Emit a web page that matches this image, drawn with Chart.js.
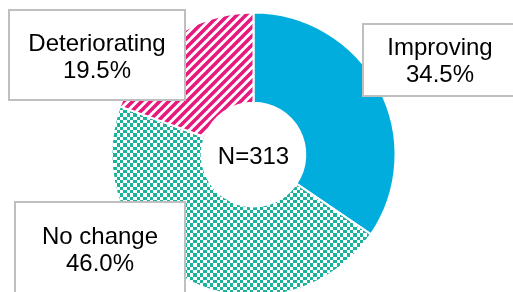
<!DOCTYPE html>
<html>
<head>
<meta charset="utf-8">
<script src="https://cdn.jsdelivr.net/npm/chart.js@4/dist/chart.umd.min.js"></script>
<style>
  html, body { margin: 0; padding: 0; background: #fff; overflow: hidden; }
  .wrap { width: 513px; height: 309px; position: relative; }
</style>
</head>
<body>
<div class="wrap"><canvas id="myChart"></canvas></div>
<script>
// data
const categories = ['Improving', 'No change', 'Deteriorating'];
const shares = [34.5, 46.0, 19.5];
const sampleSize = 313;

// fills
function stripes(color) {
    const s = 9;
    const c = document.createElement('canvas');
    c.width = s; c.height = s;
    const g = c.getContext('2d');
    g.fillStyle = '#fff';
    g.fillRect(0, 0, s, s);
    g.strokeStyle = color;
    g.lineWidth = 3.5;
    [-s, 0, s].forEach(function (o) {
        g.beginPath();
        g.moveTo(o - 1, s + 1);
        g.lineTo(o + s + 1, -1);
        g.stroke();
    });
    return g.createPattern(c, 'repeat');
}

function checker(color) {
    const c = document.createElement('canvas');
    c.width = 20; c.height = 20;
    const g = c.getContext('2d');
    g.fillStyle = '#fff';
    g.fillRect(0, 0, 20, 20);
    g.fillStyle = color;
    // squares about 3.3px wide
    const edges = [0, 3, 7, 10, 13, 17, 20];
    for (let r = 0; r < 6; r++) {
        for (let k = 0; k < 6; k++) {
            if ((r + k) % 2 === 0) {
                g.fillRect(edges[k], edges[r], edges[k + 1] - edges[k], edges[r + 1] - edges[r]);
            }
        }
    }
    return g.createPattern(c, 'repeat');
}

const fills = ['#00ADDC', checker('#1BB29B'), stripes('#E8197D')];

// label boxes (x, y, w, h, text centre x, first baseline)
const boxes = [
    [363, 24, 160, 72, 440, 55],
    [15, 202, 170, 100, 100, 244],
    [9, 10, 176, 90, 97, 51]
];

const labelBoxes = {
    id: 'labelBoxes',
    afterDraw: function (chart) {
        const ctx = chart.ctx;
        ctx.save();
        ctx.font = '24px "Liberation Sans", Arial, sans-serif';
        ctx.textAlign = 'center';
        ctx.textBaseline = 'alphabetic';
        boxes.forEach(function (b, i) {
            ctx.fillStyle = '#fff';
            ctx.fillRect(b[0], b[1], b[2], b[3]);
            ctx.strokeStyle = '#BFBFBF';
            ctx.lineWidth = 2;
            ctx.strokeRect(b[0], b[1], b[2], b[3]);
            ctx.fillStyle = '#000';
            ctx.fillText(categories[i], b[4], b[5]);
            ctx.fillText(shares[i].toFixed(1) + '%', b[4], b[5] + 27);
        });
        const arc = chart.getDatasetMeta(0).data[0];
        ctx.fillText('N=' + sampleSize, arc.x, arc.y + 9);
        ctx.restore();
    }
};

const ctx = document.getElementById('myChart');

new Chart(ctx, {
    type: 'doughnut',
    data: {
        labels: categories,
        datasets: [{
            data: shares,
            backgroundColor: fills,
            borderColor: '#fff',
            borderWidth: 2
        }]
    },
    options: {
        responsive: true,
        maintainAspectRatio: false,
        animation: false,
        radius: 142,
        cutout: 56,
        layout: { padding: { right: 6 } },
        plugins: {
            legend: { display: false },
            tooltip: { enabled: false }
        }
    },
    plugins: [labelBoxes]
});
</script>
</body>
</html>
